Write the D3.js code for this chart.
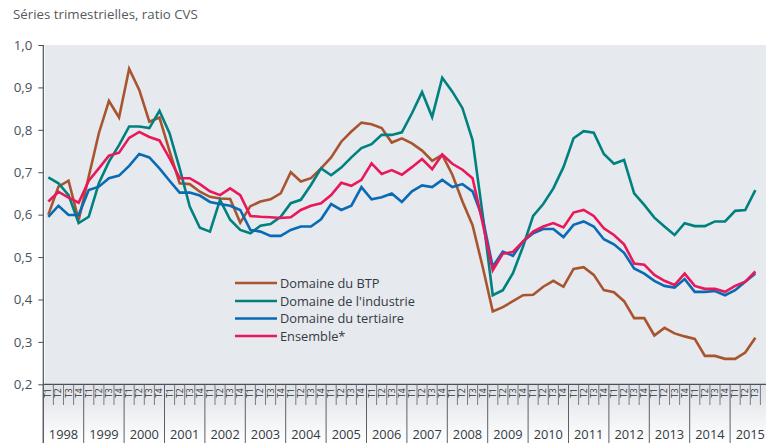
<!DOCTYPE html>
<html><head><meta charset="utf-8">
<script src="https://cdn.jsdelivr.net/npm/d3@7"></script>
<style>
html,body{margin:0;padding:0;background:#fff;}
svg{display:block;font-family:"Open Sans",sans-serif;}
</style></head>
<body><svg id="c" width="766" height="443"></svg>
<script>
const title = "Séries trimestrielles, ratio CVS";
const years = d3.range(1998, 2016);
const quarters = ["T1","T2","T3","T4"];
const yTicks = [0.2,0.3,0.4,0.5,0.6,0.7,0.8,0.9,1.0];
const seriesNames = ["Domaine du BTP","Domaine de l'industrie","Domaine du tertiaire","Ensemble*"];
const seriesColors = ["#a8552f","#00817f","#0a6ab4","#e8185a"];

const btp = [0.60,0.666,0.68,0.587,0.69,0.792,0.868,0.829,0.944,0.894,0.819,0.829,0.75,0.674,0.672,0.654,
0.642,0.638,0.637,0.581,0.62,0.631,0.636,0.65,0.70,0.678,0.686,0.709,0.735,0.772,0.796,0.817,0.813,0.804,0.77,0.78,
0.768,0.751,0.727,0.741,0.694,0.631,0.575,0.477,0.372,0.382,0.396,0.41,0.411,0.43,0.444,0.43,0.472,0.476,0.458,0.422,
0.417,0.396,0.356,0.356,0.315,0.333,0.32,0.313,0.307,0.267,0.267,0.26,0.26,0.275,0.31];
const industrie = [0.688,0.674,0.646,0.58,0.595,0.674,0.725,0.764,0.808,0.808,0.804,0.845,0.792,0.709,0.619,0.569,
0.56,0.635,0.588,0.564,0.556,0.574,0.578,0.595,0.627,0.635,0.670,0.709,0.693,0.711,0.735,0.757,0.766,0.788,0.788,0.794,
0.839,0.889,0.83,0.923,0.89,0.851,0.776,0.60,0.41,0.422,0.462,0.525,0.597,0.625,0.662,0.712,0.78,0.797,0.793,0.743,
0.72,0.729,0.65,0.623,0.593,0.572,0.552,0.58,0.573,0.573,0.584,0.584,0.609,0.611,0.658];
const tertiaire = [0.595,0.621,0.599,0.599,0.658,0.666,0.686,0.692,0.715,0.743,0.735,0.709,0.680,0.652,0.652,0.645,
0.63,0.625,0.621,0.611,0.564,0.56,0.55,0.55,0.564,0.572,0.572,0.589,0.625,0.611,0.621,0.665,0.636,0.641,0.65,0.63,
0.655,0.669,0.665,0.682,0.665,0.672,0.655,0.592,0.477,0.513,0.503,0.537,0.556,0.566,0.566,0.547,0.576,0.584,0.572,0.542,
0.53,0.51,0.473,0.461,0.444,0.432,0.428,0.448,0.418,0.418,0.42,0.41,0.422,0.442,0.461];
const ensemble = [0.631,0.654,0.640,0.628,0.680,0.709,0.739,0.746,0.781,0.795,0.783,0.775,0.733,0.686,0.686,0.672,
0.655,0.646,0.662,0.646,0.597,0.595,0.594,0.592,0.594,0.611,0.621,0.627,0.646,0.675,0.668,0.682,0.721,0.696,0.705,0.694,
0.712,0.731,0.707,0.742,0.72,0.706,0.686,0.58,0.469,0.508,0.512,0.537,0.56,0.572,0.58,0.57,0.605,0.611,0.597,0.568,
0.552,0.53,0.485,0.482,0.458,0.444,0.434,0.461,0.432,0.425,0.425,0.418,0.432,0.442,0.466];
const allSeries = [btp, industrie, tertiaire, ensemble];

const periods = [];
years.forEach(yr => quarters.forEach(q => periods.push(yr + q)));
const labelled = periods.slice(0, btp.length);

const svg = d3.select("#c");
const W = 766, H = 443;
const mLeft = 43.3, mTop = 45, mBottom = 384.3;
const qw = 10.1;

const x = d3.scaleBand().domain(periods).range([mLeft, mLeft + periods.length * qw]).padding(0);
const y = d3.scaleLinear().domain([0.2, 1.0]).range([mBottom, mTop]);

const defs = svg.append("defs");
const g1 = defs.append("linearGradient").attr("id","axg").attr("x1",0).attr("y1",0).attr("x2",0).attr("y2",1);
g1.append("stop").attr("offset","0%").attr("stop-color","#dfe2e7");
g1.append("stop").attr("offset","35%").attr("stop-color","#e9ebee");
g1.append("stop").attr("offset","100%").attr("stop-color","#ffffff");

svg.append("rect").attr("x", mLeft + 1.5).attr("y", mTop).attr("width", W - mLeft).attr("height", mBottom - mTop).attr("fill", "#e6e9ee");
svg.append("rect").attr("x", mLeft).attr("y", mBottom).attr("width", W - mLeft).attr("height", H - mBottom).attr("fill", "url(#axg)");

svg.append("text").attr("x", 13).attr("y", 19).attr("font-size", 13.3).attr("fill", "#555a60").text(title);

const fmt = d3.formatLocale({decimal: ",", thousands: " ", grouping: [3], currency: ["", "€"]}).format(".1f");
const ya = svg.append("g").attr("transform", `translate(${mLeft},0)`)
  .call(d3.axisLeft(y).tickValues(yTicks).tickFormat(fmt).tickSize(5).tickPadding(6));
ya.select(".domain").remove();
ya.selectAll("line").attr("stroke", "#4a5058");
ya.selectAll("text").attr("font-size", 13.3).attr("fill", "#4a5058").attr("font-family", "Open Sans");
svg.append("line").attr("x1", mLeft).attr("x2", mLeft).attr("y1", mTop).attr("y2", H).attr("stroke", "#4a5058").attr("stroke-width", 1.2);

const xa = svg.append("g");
xa.append("line").attr("x1", mLeft).attr("x2", W).attr("y1", mBottom).attr("y2", mBottom).attr("stroke", "#4a5058").attr("stroke-width", 1.2);
xa.selectAll("line.q").data(periods).enter().append("line").attr("class","q")
  .attr("x1", d => x(d)).attr("x2", d => x(d)).attr("y1", mBottom).attr("y2", d => d.endsWith("T1") ? H : 405)
  .attr("stroke", "#5a6068").attr("stroke-width", d => d.endsWith("T1") ? 1 : 0.8);
xa.selectAll("text.q").data(labelled).enter().append("text").attr("class","q")
  .attr("transform", d => `translate(${x(d) + qw/2 + 3},${mBottom + 4}) rotate(-90)`)
  .attr("text-anchor", "end").attr("font-size", 8.5).attr("fill", "#333").text(d => d.slice(4));
xa.selectAll("text.y").data(years).enter().append("text").attr("class","y")
  .attr("x", d => x(d + "T1") + 2 * qw).attr("y", 439).attr("text-anchor", "middle")
  .attr("font-size", 12.8).attr("fill", "#333a42").text(d => d);

const line = d3.line().x((d, i) => x(periods[i]) + qw / 2).y(d => y(d));
allSeries.forEach((s, k) => {
  svg.append("path").datum(s).attr("d", line).attr("fill", "none")
    .attr("stroke", seriesColors[k]).attr("stroke-width", 2.6).attr("stroke-linejoin", "miter");
});

const lg = svg.append("g");
const lgY = [283, 301, 318.5, 336];
seriesNames.forEach((n, k) => {
  lg.append("line").attr("x1", 235).attr("x2", 277).attr("y1", lgY[k]).attr("y2", lgY[k]).attr("stroke", seriesColors[k]).attr("stroke-width", 2.6);
  lg.append("text").attr("x", 280).attr("y", lgY[k] + 4.5).attr("font-size", 12.8).attr("fill", "#333a42").text(n);
});
</script></body></html>
